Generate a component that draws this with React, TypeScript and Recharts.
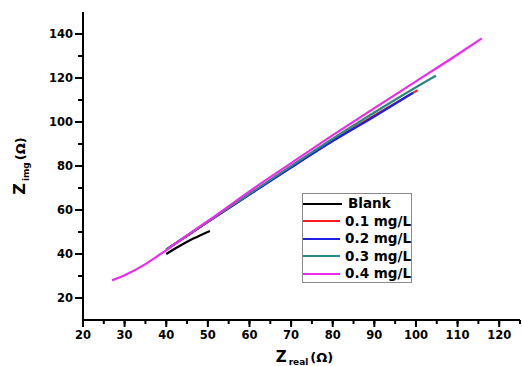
import React from 'react';
import { LineChart, Line, XAxis, YAxis, Legend, Label } from 'recharts';

// ---- data ----
const blankData = [
  { x: 40, y: 40 }, { x: 43, y: 43.4 }, { x: 46.5, y: 47 }, { x: 50.5, y: 50.5 },
];
const c01Data = [
  { x: 40, y: 42 }, { x: 45, y: 48.3 }, { x: 50, y: 54.6 }, { x: 60, y: 67.1 },
  { x: 70, y: 79.5 }, { x: 80, y: 91.6 }, { x: 90, y: 103 }, { x: 100.4, y: 114.5 },
];
const c02Data = [
  { x: 40, y: 42 }, { x: 45, y: 48.3 }, { x: 50, y: 54.6 }, { x: 60, y: 67 },
  { x: 70, y: 79.3 }, { x: 80, y: 91.3 }, { x: 90, y: 102.5 }, { x: 99.3, y: 113.3 },
];
const c03Data = [
  { x: 40, y: 42 }, { x: 45, y: 48.3 }, { x: 50, y: 54.7 }, { x: 60, y: 67.4 },
  { x: 70, y: 80 }, { x: 80, y: 92.4 }, { x: 90, y: 104.3 }, { x: 100, y: 115.8 },
  { x: 104.8, y: 121.1 },
];
const c04Data = [
  { x: 27, y: 28 }, { x: 30, y: 30.3 }, { x: 35, y: 35.4 }, { x: 40, y: 41.8 },
  { x: 45, y: 48.5 }, { x: 50, y: 55 }, { x: 60, y: 68.5 }, { x: 70, y: 81.3 },
  { x: 80, y: 94 }, { x: 90, y: 106.3 }, { x: 100, y: 118.5 }, { x: 110, y: 130.7 },
  { x: 115.8, y: 138 },
];

const xTicks = [20, 25, 30, 35, 40, 45, 50, 55, 60, 65, 70, 75, 80, 85, 90, 95, 100, 105, 110, 115, 120, 125];
const xMajor = [20, 30, 40, 50, 60, 70, 80, 90, 100, 110, 120];
const yTicks = [20, 30, 40, 50, 60, 70, 80, 90, 100, 110, 120, 130, 140];
const yMajor = [20, 40, 60, 80, 100, 120, 140];

const series = [
  { name: 'Blank', color: '#000000', data: blankData },
  { name: '0.1 mg/L', color: '#ff1a1a', data: c01Data },
  { name: '0.2 mg/L', color: '#1f1fe6', data: c02Data },
  { name: '0.3 mg/L', color: '#2a8a80', data: c03Data },
  { name: '0.4 mg/L', color: '#ee2aee', data: c04Data },
];

const FONT = '"DejaVu Sans", sans-serif';
const X_MINOR = 4;
const Y_MINOR = 5;

const renderXTick = (props: any) => {
  const x = Number(props.x);
  const y = Number(props.y);
  const v = props.payload ? props.payload.value : 0;
  const major = xMajor.includes(v);
  return (
    <g key={`xt-${v}`}>
      {major && <line x1={x} y1={y - X_MINOR} x2={x} y2={y + 3} stroke="#000" strokeWidth={2} />}
      {major && (
        <text x={x} y={y + 15} textAnchor="middle" fontFamily={FONT} fontWeight="bold" fontSize={11.5} fill="#000">
          {v}
        </text>
      )}
    </g>
  );
};

const renderYTick = (props: any) => {
  const x = Number(props.x);
  const y = Number(props.y);
  const v = props.payload ? props.payload.value : 0;
  const major = yMajor.includes(v);
  return (
    <g key={`yt-${v}`}>
      {major && <line x1={x + Y_MINOR} y1={y} x2={x - 3} y2={y} stroke="#000" strokeWidth={2} />}
      {major && (
        <text x={x - 5} y={y} dy="0.36em" textAnchor="end" fontFamily={FONT} fontWeight="bold" fontSize={11.5} fill="#000">
          {v}
        </text>
      )}
    </g>
  );
};

const XLabel = (props: any) => {
  const vb = props.viewBox || {};
  const cx = vb.x + vb.width / 2 + 3;
  return (
    <text x={cx} y={vb.y + 42} textAnchor="middle" fontFamily={FONT} fontWeight="bold" fill="#000">
      <tspan fontSize={15}>Z</tspan>
      <tspan fontSize={9} dx={2} dy={3}>real</tspan>
      <tspan fontSize={13} dx={2} dy={-3}>(Ω)</tspan>
    </text>
  );
};

const YLabel = (props: any) => {
  const vb = props.viewBox || {};
  const cy = vb.y + vb.height / 2;
  return (
    <text transform={`translate(25,${cy}) rotate(-90)`} x={0} y={0} textAnchor="middle" fontFamily={FONT} fontWeight="bold" fill="#000">
      <tspan fontSize={16}>Z</tspan>
      <tspan fontSize={9} dx={2} dy={4}>img</tspan>
      <tspan fontSize={13} dx={2} dy={-4}>(Ω)</tspan>
    </text>
  );
};

const LegendBox = () => (
  <div
    style={{
      border: '1px solid #8a8a8a',
      width: 108,
      height: 87,
      paddingTop: 1,
      boxSizing: 'content-box',
      background: '#fff',
    }}
  >
    {series.map((s) => (
      <div key={s.name} style={{ height: 17.5, display: 'flex', alignItems: 'center' }}>
        <svg width={40} height={6} style={{ display: 'block' }}>
          <line x1={0} y1={3} x2={39} y2={3} stroke={s.color} strokeWidth={2.2} />
        </svg>
        <span
          style={{
            marginLeft: 5,
            fontFamily: FONT,
            fontWeight: 'bold',
            fontSize: 13.5,
            color: '#000',
            lineHeight: '17px',
            whiteSpace: 'nowrap',
          }}
        >
          {s.name}
        </span>
      </div>
    ))}
  </div>
);

export default function App() {
  return (
    <div style={{ position: 'absolute', left: 0, top: 0, width: 522, height: 366, background: '#fff' }}>
      <LineChart width={522} height={366} margin={{ top: 12, right: 2, bottom: 0, left: 0 }}>
        <XAxis
          type="number"
          dataKey="x"
          domain={[20, 125]}
          ticks={xTicks}
          interval={0}
          allowDataOverflow
          height={46}
          tickSize={X_MINOR}
          tickMargin={0}
          tickLine={{ stroke: '#000', strokeWidth: 2 }}
          axisLine={{ stroke: '#000', strokeWidth: 2 }}
          tick={renderXTick}
        >
          <Label content={<XLabel />} />
        </XAxis>
        <YAxis
          type="number"
          dataKey="y"
          domain={[10, 150]}
          ticks={yTicks}
          interval={0}
          allowDataOverflow
          width={83}
          tickSize={Y_MINOR}
          tickMargin={0}
          tickLine={{ stroke: '#000', strokeWidth: 2 }}
          axisLine={{ stroke: '#000', strokeWidth: 2 }}
          tick={renderYTick}
        >
          <Label content={<YLabel />} />
        </YAxis>
        <Legend
          layout="vertical"
          align="center"
          verticalAlign="middle"
          content={<LegendBox />}
          wrapperStyle={{ position: 'absolute', left: 302, top: 193, width: 110, height: 89 }}
        />
        {series.map((s) => (
          <Line
            key={s.name}
            name={s.name}
            data={s.data}
            dataKey="y"
            type="monotone"
            stroke={s.color}
            strokeWidth={2.2}
            dot={false}
            activeDot={false}
            isAnimationActive={false}
          />
        ))}
      </LineChart>
    </div>
  );
}
